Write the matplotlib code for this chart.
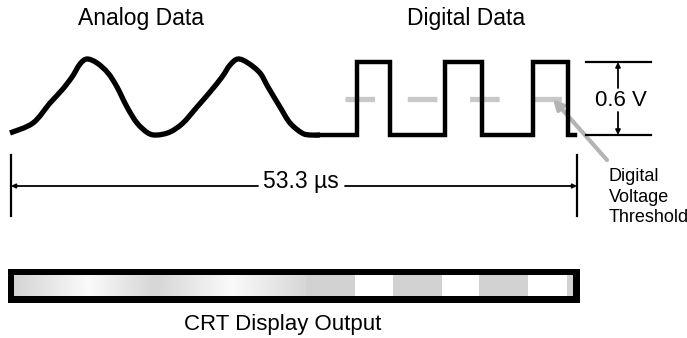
import numpy as np
import matplotlib.pyplot as plt
from matplotlib.patches import Rectangle, FancyArrowPatch, PathPatch
from matplotlib.path import Path

plt.rcParams['font.family'] = ['Liberation Sans', 'DejaVu Sans']

# analog trace (x, y in picture units)
analog_x = [10, 33, 50, 62, 72, 80, 87, 97, 108, 117, 127, 137, 148, 157, 170,
            183, 197, 210, 222, 230, 238, 248, 260, 268, 280, 290, 302, 310, 320]
analog_y = [133, 123, 103, 90, 77, 64, 59, 63, 73, 87, 107, 123, 133, 135, 132,
            123, 107, 92, 77, 65, 59, 63, 73, 87, 107, 123, 133, 135, 135]

# digital trace: edge times and logic levels (volts)
digital_t = [318, 357, 390, 445, 482, 533, 568, 575]
digital_v = [0, 0.6, 0, 0.6, 0, 0.6, 0, 0]
threshold_v = 0.3

# CRT output bar segments
crt_edges = [306, 355, 393, 442, 479, 528, 567, 573]
crt_fill = ['#d2d2d2', 'white', '#d2d2d2', 'white', '#d2d2d2', 'white', '#d2d2d2']
grad_x = [14, 88, 153, 157, 233, 306]
grad_v = [0.83, 0.98, 0.84, 0.84, 0.98, 0.84]

low_y, high_y = 135, 62
def vy(v):
    return low_y - np.asarray(v) * (low_y - high_y) / 0.6

def smooth_path(xs, ys):
    # catmull-rom through the points, as cubic bezier segments
    p = np.column_stack([xs, ys]).astype(float)
    p = np.vstack([p[0], p, p[-1]])
    verts = [p[1]]
    codes = [Path.MOVETO]
    for i in range(1, len(p) - 2):
        c1 = p[i] + (p[i + 1] - p[i - 1]) / 6
        c2 = p[i + 1] - (p[i + 2] - p[i]) / 6
        verts += [c1, c2, p[i + 1]]
        codes += [Path.CURVE4] * 3
    return Path(verts, codes)

fig = plt.figure(figsize=(6.87, 3.38), dpi=100)
ax = fig.add_axes([0, 0, 1, 1])
ax.set_xlim(0, 687)
ax.set_ylim(338, 0)
ax.axis('off')

# titles
ax.text(141, 25, 'Analog Data', fontsize=16.5, ha='center', va='baseline')
ax.text(466, 25, 'Digital Data', fontsize=16.5, ha='center', va='baseline')

# threshold dashes
ax.plot([345, 577], [vy(threshold_v)] * 2, color='#c8c8c8', lw=3.8,
        dashes=(5.6, 6.2), solid_capstyle='butt', zorder=1)

# signals
ax.add_patch(PathPatch(smooth_path(analog_x, analog_y), facecolor='none',
                       edgecolor='black', lw=3.8, joinstyle='round',
                       capstyle='butt', zorder=3))
ax.step(digital_t, vy(digital_v), where='post', color='black', lw=3.2,
        solid_joinstyle='miter', zorder=3)

# 0.6 V dimension
ax.plot([586, 651], [high_y, high_y], color='black', lw=1.6)
ax.plot([586, 651], [low_y, low_y], color='black', lw=1.6)
for y0, y1 in [(88, high_y), (112, low_y)]:
    ax.add_patch(FancyArrowPatch((618, y0), (618, y1), arrowstyle='-|>',
                                 mutation_scale=7, lw=1.3, color='black',
                                 shrinkA=0, shrinkB=0))
ax.text(621, 100, '0.6 V', fontsize=16, ha='center', va='center')

# threshold callout
ax.add_patch(FancyArrowPatch((607, 160), (553, 99), arrowstyle='-|>',
                             mutation_scale=14, lw=3, color='#b4b4b4',
                             shrinkA=0, shrinkB=0))
for i, s in enumerate(['Digital', 'Voltage', 'Threshold']):
    ax.text(609, 181 + 20.5 * i, s, fontsize=13, ha='left', va='baseline')

# 53.3 us dimension
ax.plot([11, 11], [155, 216], color='black', lw=1.6)
ax.plot([577, 577], [155, 216], color='black', lw=1.6)
for x0, x1 in [(258, 11), (345, 577)]:
    ax.add_patch(FancyArrowPatch((x0, 186), (x1, 186), arrowstyle='-|>',
                                 mutation_scale=6, lw=1.3, color='black',
                                 shrinkA=0, shrinkB=0))
ax.text(301, 188, '53.3 \u00b5s', fontsize=16.5, ha='center', va='baseline')

# CRT bar
ax.add_patch(Rectangle((8, 268.5), 572, 34, facecolor='black', edgecolor='none'))
xs = np.linspace(14, 306, 300)
shade = np.interp(xs, grad_x, grad_v)
ax.imshow(shade[np.newaxis, :], cmap='gray', vmin=0, vmax=1, aspect='auto',
          extent=(14, 306, 296, 275), interpolation='bilinear', zorder=2)
for x0, x1, c in zip(crt_edges[:-1], crt_edges[1:], crt_fill):
    ax.add_patch(Rectangle((x0, 275), x1 - x0, 21, facecolor=c,
                           edgecolor='none', zorder=2))
ax.set_xlim(0, 687)
ax.set_ylim(338, 0)
ax.text(283, 330, 'CRT Display Output', fontsize=16, ha='center', va='baseline')

fig.savefig('out.png', dpi=100)
